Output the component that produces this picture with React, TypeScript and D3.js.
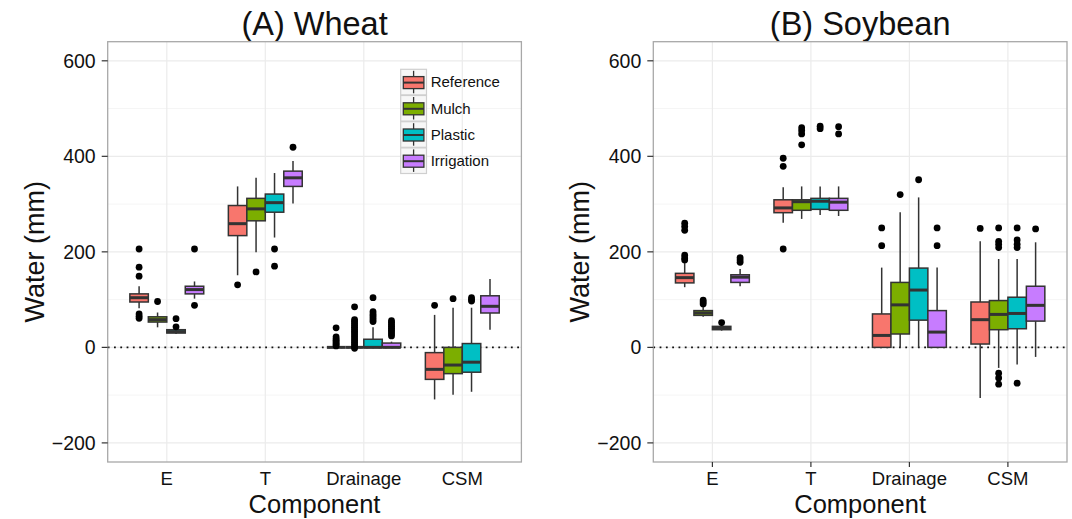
import React from 'react';
import * as d3 from 'd3';

// categories and groups
const components = ['E', 'T', 'Drainage', 'CSM'];
const treatments = ['Reference', 'Mulch', 'Plastic', 'Irrigation'];
const treatmentColors = ['#F8766D', '#7CAE00', '#00BFC4', '#C77CFF'];
const yTicks = [-200, 0, 200, 400, 600];
const yMinorTicks = [-100, 100, 300, 500];

// box stats per component x treatment: [lower whisker, q1, median, q3, upper whisker]
const wheatBoxes: number[][] = [
  [82, 95, 104, 112, 128], [42, 53, 58, 64, 73], [28, 30, 33, 37, 39], [102, 112, 121, 128, 138],
  [151, 234, 259, 297, 337], [199, 265, 290, 312, 355], [230, 283, 303, 321, 365], [301, 337, 355, 369, 390],
  [0, 0, 0, 0, 0], [0, 0, 0, 0, 0], [0, 0, 0, 17, 42], [0, 0, 0, 9, 12],
  [-109, -67, -46, -11, 68], [-99, -55, -37, 0, 83], [-93, -52, -31, 8, 83], [37, 72, 86, 108, 143],
];
const wheatOutliers: number[][] = [
  [206, 168, 149, 70, 65, 61], [96], [60, 43], [206, 88],
  [131], [158], [206, 170], [419],
  [41, 22, 18, 15, 12, 9, 6, 3], [85, 58, 54, 50, 46, 42, 38, 34, 30, 26, 22, 18, 14, 10, 6, 2, -2],
  [104, 75, 70, 66, 62, 58, 54], [56, 52, 48, 44, 40, 36, 32, 28, 24],
  [88], [102], [104, 100, 97], [],
];

const soyBoxes: number[][] = [
  [126, 135, 146, 155, 178], [64, 67, 72, 77, 86], [35, 37, 40, 44, 47], [128, 136, 147, 152, 164],
  [261, 282, 292, 309, 335], [269, 287, 305, 309, 337], [277, 289, 306, 312, 337], [275, 287, 304, 312, 337],
  [0, 0, 25, 70, 167], [0, 28, 89, 136, 283], [0, 57, 120, 166, 314], [0, 0, 32, 77, 167],
  [-106, 7, 58, 95, 222], [-43, 37, 69, 98, 185], [-36, 39, 71, 105, 185], [-20, 55, 88, 128, 220],
];
const soyOutliers: number[][] = [
  [260, 253, 245, 193, 187, 183], [99, 95, 91], [52], [188, 183, 178],
  [396, 379, 206], [460, 454, 447, 424], [463, 458], [462, 447],
  [250, 213], [320], [351], [250, 213],
  [249], [250, 222, 216, 209, -54, -64, -77], [250, 225, 216, 209, -75], [248],
];

const FONT = 'Liberation Sans, Arial, Helvetica, sans-serif';
const PW = 413.7;
const PH = 420.3;

interface PanelProps {
  title: string;
  boxes: number[][];
  outliers: number[][];
  left: number;
  top: number;
  legend?: boolean;
  xTicks?: boolean;
}

const Panel: React.FC<PanelProps> = ({ title, boxes, outliers, left, top, legend, xTicks }) => {
  const x = d3.scalePoint<string>().domain(components).range([0, PW]).padding(0.6);
  const step = x.step();
  const dodge = d3.scaleBand<string>().domain(treatments).range([-0.375 * step, 0.375 * step]);
  const y = d3.scaleLinear().domain([-240, 640]).range([PH, 0]);
  const bw = dodge.bandwidth();

  return (
    <g transform={`translate(${left},${top})`}>
      <text x={PW / 2} y={-7} textAnchor="middle" fontSize={32.5} fontFamily={FONT} fill="#111">{title}</text>
      <rect x={0} y={0} width={PW} height={PH} fill="#fff" />
      {yMinorTicks.map(t => (
        <line key={'m' + t} x1={0} x2={PW} y1={y(t)} y2={y(t)} stroke="#f5f5f5" strokeWidth={1} />
      ))}
      {yTicks.map(t => (
        <line key={'g' + t} x1={0} x2={PW} y1={y(t)} y2={y(t)} stroke="#ebebeb" strokeWidth={1.2} />
      ))}
      {components.map(c => (
        <line key={'v' + c} x1={x(c)} x2={x(c)} y1={0} y2={PH} stroke="#ebebeb" strokeWidth={1.2} />
      ))}
      <line x1={0} x2={PW} y1={y(0)} y2={y(0)} stroke="#111" strokeWidth={1.8} strokeDasharray="1.8,4.5" />
      {components.map((c, ci) => treatments.map((t, ti) => {
        const idx = ci * 4 + ti;
        const [lo, q1, med, q3, hi] = boxes[idx];
        const cx = (x(c) as number) + (dodge(t) as number) + bw / 2;
        return (
          <g key={c + t}>
            <line x1={cx} x2={cx} y1={y(hi)} y2={y(q3)} stroke="#333" strokeWidth={1.5} />
            <line x1={cx} x2={cx} y1={y(q1)} y2={y(lo)} stroke="#333" strokeWidth={1.5} />
            <rect x={cx - bw / 2} y={y(q3)} width={bw} height={y(q1) - y(q3)}
              fill={treatmentColors[ti]} stroke="#333" strokeWidth={1.5} />
            <line x1={cx - bw / 2} x2={cx + bw / 2} y1={y(med)} y2={y(med)} stroke="#333" strokeWidth={3} />
            {outliers[idx].map((o, oi) => (
              <circle key={oi} cx={cx} cy={y(o)} r={3.4} fill="#000" />
            ))}
          </g>
        );
      }))}
      <rect x={0} y={0} width={PW} height={PH} fill="none" stroke="#a8a8a8" strokeWidth={1.3} />
      {yTicks.map(t => (
        <g key={'yt' + t}>
          <line x1={-6} x2={0} y1={y(t)} y2={y(t)} stroke="#333" strokeWidth={1.2} />
          <text x={-12} y={y(t)} dy="0.36em" textAnchor="end" fontSize={19.5} fontFamily={FONT} fill="#111">
            {t < 0 ? '\u2212' + Math.abs(t) : t}
          </text>
        </g>
      ))}
      {components.map(c => (
        <g key={'xt' + c}>
          {xTicks && <line x1={x(c)} x2={x(c)} y1={PH} y2={PH + 5} stroke="#333" strokeWidth={1.2} />}
          <text x={x(c)} y={PH + 23.5} textAnchor="middle" fontSize={18.5} fontFamily={FONT} fill="#111">{c}</text>
        </g>
      ))}
      <text x={PW / 2} y={PH + 51} textAnchor="middle" fontSize={25.5} fontFamily={FONT} fill="#111">Component</text>
      <text transform={`translate(-64,${PH / 2}) rotate(-90)`} textAnchor="middle" fontSize={27}
        fontFamily={FONT} fill="#111">Water (mm)</text>
      {legend && (
        <g transform="translate(293,27.6)">
          {treatments.map((t, i) => {
            const ky = i * 26.2;
            return (
              <g key={'lg' + t} transform={`translate(0,${ky})`}>
                <rect x={0} y={0} width={25.8} height={25.6} fill="#f7f7f7" stroke="#cfcfcf" strokeWidth={1.2} />
                <line x1={12.9} x2={12.9} y1={1.5} y2={24} stroke="#333" strokeWidth={1.3} />
                <rect x={2.6} y={7.3} width={20.6} height={12} fill={treatmentColors[i]} stroke="#333" strokeWidth={1.3} />
                <line x1={2.6} x2={23.2} y1={13.3} y2={13.3} stroke="#333" strokeWidth={2} />
                <text x={30} y={12.8} dy="0.36em" fontSize={15} fontFamily={FONT} fill="#111">{t}</text>
              </g>
            );
          })}
        </g>
      )}
    </g>
  );
};

export default function App() {
  return (
    <svg width={1072} height={519} style={{ position: 'absolute', left: 0, top: 0, background: '#fff' }}>
      <rect width={1072} height={519} fill="#fff" />
      <Panel title="(A) Wheat" boxes={wheatBoxes} outliers={wheatOutliers} left={107.7} top={41.7} legend />
      <Panel title="(B) Soybean" boxes={soyBoxes} outliers={soyOutliers} left={653.3} top={41.7} xTicks />
    </svg>
  );
}
